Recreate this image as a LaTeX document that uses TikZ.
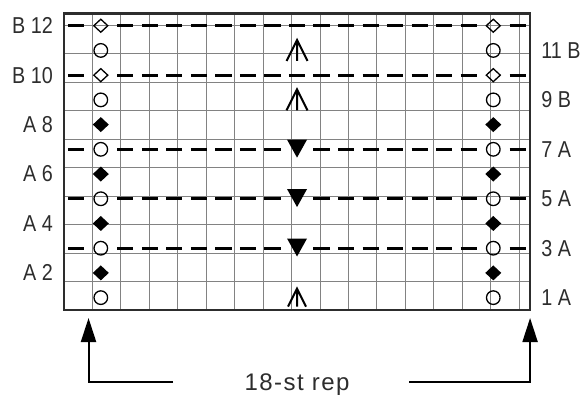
\documentclass[tikz,border=0pt]{standalone}
\usepackage{fontspec}
\newfontfamily\chartfont[FakeStretch=0.86]{Liberation Sans}
\newfontfamily\repfont[LetterSpace=6]{Liberation Sans}
\usepackage{xcolor}
\definecolor{gridgray}{RGB}{130, 130, 130}
\definecolor{inkgray}{RGB}{45, 45, 45}
\usepackage{tikz}
\usetikzlibrary{arrows.meta, calc, positioning}

\begin{document}
\begin{tikzpicture}[x=24.53pt, y=24.72pt,
    rowlab/.style={font=\chartfont\fontsize{23}{25}\selectfont, text=inkgray, inner sep=0pt},
    replab/.style={font=\repfont\fontsize{24}{26}\selectfont, text=inkgray, inner sep=0pt},
    knitbar/.style={line width=2.7pt, black},
    ringst/.style={line width=1.3pt, black},
    repline/.style={line width=2pt, black, -{Triangle[length=24pt, width=15pt]}}]
  \useasboundingbox (-64pt,-84pt) rectangle (519pt,310pt);
  % 格子
  \draw[gridgray, line width=1pt] (0,0) grid (19,12);
  % 横线 (rows 3,5,7,10,12)
  \foreach \r in {3,5,7,10,12}
    \foreach \c in {1,3,4,...,9,11,12,...,17,19}
      \draw[knitbar] (\c-0.83,\r-0.5) -- (\c-0.17,\r-0.5);
  \foreach \r in {10,12}
    \draw[knitbar] (9.17,\r-0.5) -- (9.83,\r-0.5);
  % 圆圈
  \foreach \r in {1,3,5,7,9,11}
    \foreach \c in {1.5,17.5}
      \draw[ringst] (\c,\r-0.5) circle (6.8pt);
  % 实心菱形
  \foreach \r in {2,4,6,8}
    \foreach \c in {1.5,17.5}
      \fill[black] ([yshift=7.5pt]\c,\r-0.5) -- ++(8pt,-7.5pt) -- ++(-8pt,-7.5pt) -- ++(-8pt,7.5pt) -- cycle;
  % 空心菱形
  \foreach \r in {10,12}
    \foreach \c in {1.5,17.5}
      \draw[ringst] ([yshift=6.5pt]\c,\r-0.5) -- ++(7pt,-6.5pt) -- ++(-7pt,-6.5pt) -- ++(-7pt,6.5pt) -- cycle;
  % 三角形
  \foreach \r in {3,5,7}
    \fill[black] ([shift={(-10pt,9.7pt)}]9.5,\r-0.5) -- ++(20pt,0) -- ++(-10pt,-18pt) -- cycle;
  % 箭头记号
  \foreach \r/\s in {1/9pt,9/10.5pt,11/10.5pt}
    \draw[line width=2pt, black] ([shift={(-\s,-\s)}]9.5,\r-0.5) -- ++(\s,2*\s) -- ++(\s,-2*\s)
      ([yshift=\s]9.5,\r-0.5) -- ++(0,-2*\s);
  % 外框
  \draw[inkgray, line width=2.7pt] (0,0) rectangle (19,12);
  % 行号
  \foreach \r/\t in {12/B 12, 10/B 10, 8/A 8, 6/A 6, 4/A 4, 2/A 2}
    \node[rowlab, anchor=east] (left\r) at ([xshift=-11pt]0,\r-0.5) {\t};
  \foreach \r/\t in {11/11 B, 9/9 B, 7/7 A, 5/5 A, 3/3 A, 1/1 A}
    \node[rowlab, anchor=west] (right\r) at ([xshift=11pt]19,\r-0.5) {\t};
  % 重复范围
  \node[replab, anchor=base] (rep) at ([yshift=-80pt]9.5,0) {18-st rep};
  \coordinate (repL) at (109pt,-71.7pt);
  \coordinate (repR) at (345pt,-71.7pt);
  \coordinate (tipL) at ([yshift=-8pt]1,0);
  \coordinate (tipR) at ([yshift=-8pt]19,0);
  \draw[repline] (repL) -| (tipL);
  \draw[repline] (repR) -| (tipR);
\end{tikzpicture}
\end{document}
